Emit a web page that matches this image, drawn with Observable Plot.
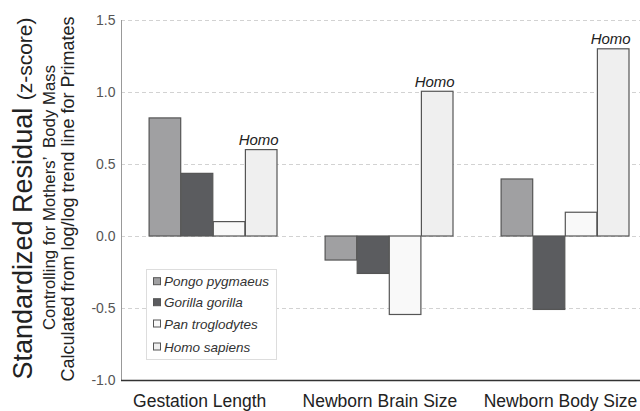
<!DOCTYPE html>
<html>
<head>
<meta charset="utf-8">
<script src="https://cdn.jsdelivr.net/npm/d3@7"></script>
<script src="https://cdn.jsdelivr.net/npm/@observablehq/plot@0.6"></script>
<style>
  html, body { margin: 0; padding: 0; background: #fff; overflow: hidden; }
  #chart { width: 640px; height: 411px; }
</style>
</head>
<body>
<div id="chart"></div>
<script>
const groups = ["Gestation Length", "Newborn Brain Size", "Newborn Body Size"];
const species = ["Pongo pygmaeus", "Gorilla gorilla", "Pan troglodytes", "Homo sapiens"];
const pongo = [0.82, -0.167, 0.396];
const gorilla = [0.435, -0.26, -0.51];
const pan = [0.10, -0.545, 0.165];
const homo = [0.60, 1.005, 1.30];
const yTicks = [-1.0, -0.5, 0.0, 0.5, 1.0, 1.5];
const colors = ["#a0a0a2", "#5b5c5f", "#f9f9f9", "#efefef"];
const homoLabel = "Homo";
const yTitle = ["Standardized Residual", "(z-score)"];
const ySub1 = "Controlling for Mothers’  Body Mass";
const ySub2 = "Calculated from log/log trend line for Primates";

const series = [pongo, gorilla, pan, homo];
const data = [];
species.forEach((s, i) => groups.forEach((g, j) => data.push({species: s, group: g, value: series[i][j]})));

const font = "'Liberation Sans', Arial, sans-serif";
const band = 176.5, off = 24.1, bw = 32.1;
const labelDx = [-13.8, -9.6, -5];
const homoDx = off + bw * 3.5 - band / 2 - 3;

const barMarks = species.map((s, i) => Plot.barY(data.filter(d => d.species === s), {
  x: "group", y: "value", fill: colors[i], stroke: "#555", strokeWidth: 1.2,
  insetLeft: off + bw * i, insetRight: band - off - bw * (i + 1)
}));

const labelMarks = groups.map((g, i) => Plot.text([g], {
  x: d => d, frameAnchor: "bottom", dy: 21, dx: labelDx[i], lineAnchor: "middle",
  fontSize: 17.5, fill: "#222", fontFamily: font
}));

const chart = Plot.plot({
  width: 640, height: 411,
  marginTop: 20, marginBottom: 31, marginLeft: 121, marginRight: 0,
  style: {fontFamily: font, fontSize: "14px", color: "#555", background: "#fff"},
  x: {domain: groups, range: [124.25, 653.75], padding: 0, axis: null},
  y: {domain: [-1, 1.5], ticks: yTicks, tickFormat: d => d.toFixed(1), tickSize: 0, tickPadding: 6, label: null},
  marks: [
    Plot.ruleY(yTicks.filter(t => t !== -1), {stroke: "#d2d2d2", strokeDasharray: "4,3"}),
    Plot.frame({anchor: "left", stroke: "#999"}),
    ...barMarks,
    Plot.text(data.filter(d => d.species === "Homo sapiens"), {
      x: "group", y: "value", text: () => homoLabel, dx: homoDx,
      dy: -5, lineAnchor: "bottom", fontSize: 15, fontStyle: "italic", fill: "#222", fontFamily: font
    }),
    Plot.ruleY([-1], {stroke: "#333", strokeWidth: 1.5}),
    ...labelMarks
  ]
});
document.getElementById("chart").appendChild(chart);

const svg = d3.select(chart);
// Y axis titles
const t1 = svg.append("text")
  .attr("transform", "translate(32,198.5) rotate(-90)")
  .attr("text-anchor", "middle")
  .attr("font-family", font).attr("fill", "#222");
t1.append("tspan").attr("font-size", 27).text(yTitle[0] + " ");
t1.append("tspan").attr("font-size", 21).text(yTitle[1]);
svg.append("text")
  .attr("transform", "translate(55,197.5) rotate(-90)")
  .attr("text-anchor", "middle").attr("font-family", font).attr("fill", "#222")
  .attr("font-size", 16.8).text(ySub1);
svg.append("text")
  .attr("transform", "translate(74,199) rotate(-90)")
  .attr("text-anchor", "middle").attr("font-family", font).attr("fill", "#222")
  .attr("font-size", 18).text(ySub2);

// Legend
const lg = svg.append("g");
lg.append("rect").attr("x", 146.5).attr("y", 269.5).attr("width", 130).attr("height", 90)
  .attr("fill", "#fff").attr("stroke", "#ddd");
const rowY = [281.7, 302.7, 324, 347];
species.forEach((s, i) => {
  lg.append("rect").attr("x", 153.5).attr("y", rowY[i] - 4).attr("width", 7).attr("height", 7)
    .attr("fill", colors[i]).attr("stroke", "#555").attr("stroke-width", 1);
  lg.append("text").attr("x", 164).attr("y", rowY[i]).attr("dy", "0.35em")
    .attr("text-anchor", "start")
    .attr("font-family", font).attr("font-size", 13.5).attr("font-style", "italic")
    .attr("fill", "#333").text(s);
});
</script>
</body>
</html>
